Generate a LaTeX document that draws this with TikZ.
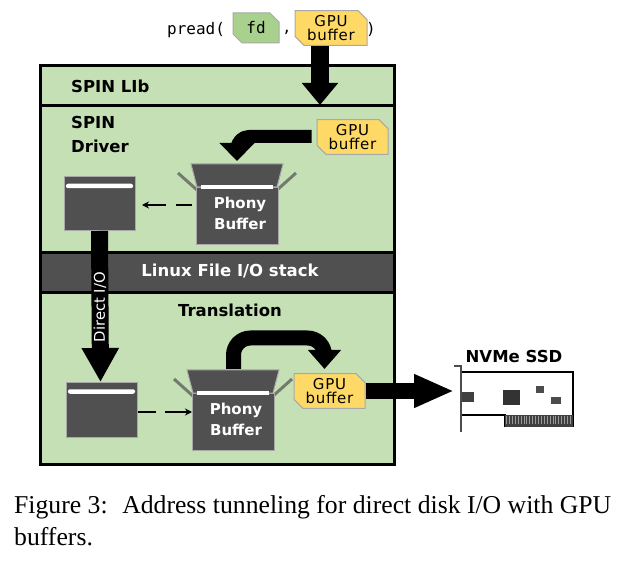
\documentclass[tikz,border=0pt]{standalone}
\usepackage{fontspec}
\setmainfont{DejaVu Sans}
\newfontfamily\capfont{Liberation Serif}
\newfontfamily\monof{DejaVu Sans Mono}
\newfontfamily\buff[LetterSpace=5]{DejaVu Sans}
\usetikzlibrary{arrows.meta,shapes.misc}
\definecolor{panel}{HTML}{C5E0B4}
\definecolor{darkg}{HTML}{505050}
\definecolor{edgeg}{HTML}{A8A8A8}
\definecolor{yel}{HTML}{FFD966}
\definecolor{fdg}{HTML}{A9D18E}
\tikzset{
  x=1pt,y=-1pt,
  lab/.style={font=\bfseries\fontsize{16.5}{18}\selectfont,inner sep=0pt,text=black},
  wlab/.style={font=\bfseries\fontsize{15}{21}\selectfont,inner sep=0pt,text=white,align=center},
  chip/.style={chamfered rectangle,chamfered rectangle corners={north east,south west},
    chamfered rectangle xsep=4.5pt,chamfered rectangle ysep=4.5pt,
    draw=edgeg,line width=1pt,inner sep=0pt,align=center},
  buf/.style={chip,fill=yel,minimum width=71pt,minimum height=29pt,
    font=\buff\fontsize{15}{14.5}\selectfont},
  dbox/.style={draw=edgeg,line width=1pt,fill=darkg,inner sep=0pt},
  wbar/.style={draw=none,fill=white,inner sep=0pt},
  flap/.style={draw=darkg!70!panel,line width=3pt},
  big/.style={line width=#1,draw=black,line join=round},
  dsh/.style={line width=1.2pt,-{Stealth[length=7pt,width=7pt]},dash pattern=on 16pt off 10pt on 30pt},
  fr/.style={draw=black,line width=3pt},
}
\newcommand{\phonybox}[3]{%
  \begin{scope}[shift={(#1,#2)}]
    \draw[flap] (-62,-31) -- (-43,-14);
    \draw[flap] (56,-31) -- (37,-14);
    \node[dbox,minimum width=82pt,minimum height=57pt,anchor=north west] (#3) at (-44,-17) {};
    \draw[draw=edgeg,line width=1pt,fill=darkg] (-49,-40) -- (43,-40) -- (37,-17) -- (-43,-17) -- cycle;
    \node[wbar,minimum width=72pt,minimum height=4pt] (#3bar) at (-3,-17) {};
    \node[wlab] (#3txt) at (0,9.5) {Phony\\Buffer};
  \end{scope}}
\begin{document}
\begin{tikzpicture}
\useasboundingbox (0,0) rectangle (633,567);
% panels
\fill[panel] (40,66) rectangle (394,464);
\fill[darkg] (40,253) rectangle (394,293);
\draw[fr] (40,66) rectangle (394,464);
\draw[fr] (40,105.5) -- (394,105.5);
\draw[fr] (40,253) -- (394,253);
\draw[fr] (40,293) -- (394,293);
% text
\node[lab,anchor=west] (lib) at (71,86) {SPIN LIb};
\node[lab,anchor=west] (spin) at (71,122.5) {SPIN};
\node[lab,anchor=west] (drv) at (71,146.5) {Driver};
\node[wlab,font=\bfseries\fontsize{16.5}{18}\selectfont] (linux) at (230,271) {Linux File I/O stack};
\node[lab] (trans) at (230,310) {Translation};
% top call
\node[font=\monof\fontsize{16}{16}\selectfont,inner sep=0pt,anchor=west] (pr) at (167,30) {pread(};
\node[chip,fill=fdg,minimum width=46pt,minimum height=30pt,font=\monof\fontsize{16}{16}\selectfont] (fd) at (256,28) {fd};
\node[font=\monof\fontsize{15}{15}\selectfont,inner sep=0pt] (comma) at (287,32) {,};
\node[buf,minimum width=72pt,minimum height=30pt] (g1) at (331,28) {GPU\\buffer};
\node[font=\monof\fontsize{16}{16}\selectfont,inner sep=0pt] (cl) at (371,29) {)};
\node[buf] (g2) at (352.5,137) {GPU\\buffer};
% phony boxes
\phonybox{240}{204}{pa}
\phonybox{236}{410}{pb}
% left boxes
\node[dbox,minimum width=71pt,minimum height=54pt] (la) at (99.5,204) {};
\node[wbar,rounded corners=2pt,minimum width=67pt,minimum height=4.5pt] (laB) at (99.5,186) {};
\node[dbox,minimum width=71pt,minimum height=54pt] (lb) at (101.5,410) {};
\node[wbar,rounded corners=2pt,minimum width=67pt,minimum height=4.5pt] (lbB) at (101.5,391.5) {};
% GPU lower
\node[buf,minimum height=29pt] (g3) at (329.5,391) {GPU\\buffer};
% SSD
\node[lab] (nvme) at (514,356) {NVMe SSD};
\coordinate (ssdL) at (461,391);
\draw[line width=1.3pt,fill=white] (461,372) -- (573,372) -- (573,426) -- (505,426) -- (505,415) -- (461,415);
\fill[black!75] (505,415) rectangle (573,427);
\foreach \i in {0,...,22} \draw[white!60!black,line width=.7pt] ({506.5+\i*2.9},415.5) -- ({506.5+\i*2.9},424);
\draw[black!70,line width=1.3pt] (454,366) -- (461,366) -- (461,432);
\node[fill=black!75,inner sep=0pt,minimum width=12pt,minimum height=10pt] (c1) at (468,397) {};
\node[fill=black!80,inner sep=0pt,minimum width=17pt,minimum height=15pt] (c2) at (511.5,397) {};
\node[fill=black!70,inner sep=0pt,minimum width=8pt,minimum height=7pt] (c3) at (540,389.5) {};
\node[fill=black!70,inner sep=0pt,minimum width=10pt,minimum height=7pt] (c4) at (556,400.5) {};
% thick arrows
\coordinate (a1) at (320,105);
\draw[big=18pt,-{Triangle[length=22pt,width=35pt]}] (g1.south -| a1) -- (a1);
\coordinate (a2end) at (237,161);
\draw[big=13pt,-{Triangle[length=18pt,width=34pt]},rounded corners=12pt] (g2.west |- 0,136.5) ++(-5,0) -- (237,136.5) -- (a2end);
\coordinate (a3s) at (99.5,231);
\coordinate (a3e) at (100.5,382);
\draw[big=17pt,-{Triangle[length=34pt,width=35pt]}] (a3s) -- (a3e);
\node[rotate=90,font=\fontsize{14.8}{15}\selectfont,text=white,inner sep=0pt] (dio) at (100,307) {Direct I/O};
\coordinate (a4s) at (233.5,369);
\coordinate (a4e) at (324.5,369);
\draw[big=15pt,-{Triangle[length=19pt,width=32pt]},rounded corners=17pt] (a4s) -- (233.5,338) -- (324.5,338) -- (a4e);
\draw[big=16pt,-{Triangle[length=40pt,width=31pt]}] (g3.east) -- (ssdL -| 454,0);
% dashed arrows
\draw[dsh] (192,205) -- (142,205);
\draw[dsh,dash pattern=on 18pt off 9pt on 30pt] (lb.east |- 0,412) -- (pb.west |- 0,412);
% caption
\node[font=\capfont\fontsize{25.7}{32.5}\selectfont,align=left,inner sep=0pt,anchor=north west] (cap) at (14,495)
  {Figure 3:\hspace{6pt} Address tunneling for direct disk I/O with GPU\\buffers.};
\end{tikzpicture}
\end{document}
